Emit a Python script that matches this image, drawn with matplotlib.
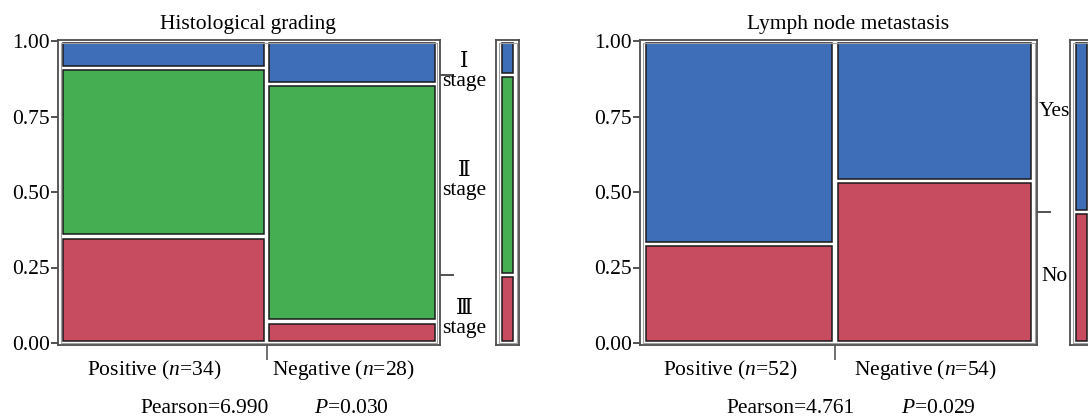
import numpy as np
import matplotlib
matplotlib.use('Agg')
import matplotlib.pyplot as plt
from matplotlib.patches import Rectangle

plt.rcParams['font.family'] = ['Liberation Serif', 'DejaVu Serif', 'Noto Sans CJK SC']
plt.rcParams['mathtext.fontset'] = 'custom'
plt.rcParams['mathtext.rm'] = 'Liberation Serif'
plt.rcParams['mathtext.it'] = 'Liberation Serif:italic'

# Data (counts)
groups = ['Positive', 'Negative']
grade_n = [34, 28]
grade_stage_III = [12, 2]
grade_stage_II = [19, 22]
grade_stage_I = [3, 4]
grade_labels = ['Ⅲ\nstage', 'Ⅱ\nstage', 'Ⅰ\nstage']

lymph_n = [52, 54]
lymph_no = [17, 29]
lymph_yes = [35, 25]
lymph_labels = ['No', 'Yes']

grade_stats = ['Pearson=6.990', '$P$=0.030']
lymph_stats = ['Pearson=4.761', '$P$=0.029']

colors_grade = ['#c84c5f', '#46ae52', '#3d6eb7']
colors_lymph = ['#c84c5f', '#3d6eb7']

W, H = 1088, 417
fig = plt.figure(figsize=(W / 100, H / 100), dpi=100)
FS = 15.5

PAD = 0.014
GAP = 0.014
G = 0.014


def px_axes(x0, x1, ytop, ybot):
    return fig.add_axes([x0 / W, 1 - ybot / H, (x1 - x0) / W, (ybot - ytop) / H])


def ftext(x, y, s, **kw):
    fig.text(x / W, 1 - y / H, s, fontsize=FS, **kw)


def frame(ax, wpx, hpx):
    for sp in ax.spines.values():
        sp.set_color('#4d4d4d')
        sp.set_linewidth(1.3)
    dx, dy = 2.5 / wpx, 2.5 / hpx
    ax.add_patch(Rectangle((dx, dy), 1 - 2 * dx, 1 - 2 * dy, transform=ax.transAxes,
                           fill=False, ec='#a0a0a0', lw=0.8))


def mosaic(ax, n, parts, colors):
    total = sum(n)
    avail = 1 - 2 * PAD - GAP * (len(n) - 1)
    x = PAD
    centers, dividers = [], []
    for j in range(len(n)):
        w = avail * n[j] / total
        lo = 0.0
        for k, part in enumerate(parts):
            hi = lo + part[j] / n[j]
            ax.add_patch(Rectangle((x, lo + G / 2), w, hi - lo - G, fc=colors[k],
                                   ec='#1a1a1a', lw=1.1))
            lo = hi
        centers.append(x + w / 2)
        x += w + GAP
        dividers.append(x - GAP / 2)
    # marginal boundaries
    tot = [sum(p) for p in parts]
    bounds = np.cumsum(tot)[:-1] / sum(tot)
    return centers, dividers[:-1], tot, bounds


def marginal(ax, tot, colors):
    lo = 0.0
    for k, t in enumerate(tot):
        hi = lo + t / sum(tot)
        ax.add_patch(Rectangle((0.26, lo + G / 2), 0.5, hi - lo - G, fc=colors[k],
                               ec='#1a1a1a', lw=1.1))
        lo = hi


def setup(ax, wpx, centers, dividers, bounds, x0px):
    ax.set_xlim(0, 1)
    ax.set_ylim(-2 / 302, 1 + 1 / 302)
    ax.set_yticks([0, 0.25, 0.5, 0.75, 1.0])
    ax.set_yticklabels(['0.00', '0.25', '0.50', '0.75', '1.00'])
    ax.tick_params(axis='y', length=5, width=1.2, color='#333333', labelsize=FS, pad=1)
    ax.set_xticks(dividers)
    ax.set_xticklabels([])
    ax.tick_params(axis='x', length=11, width=1.2, color='#555555')
    sec = ax.secondary_yaxis('right')
    sec.set_yticks(bounds)
    sec.tick_params(length=10, width=1.2, color='#333333', labelright=False)
    sec.spines['right'].set_visible(False)
    frame(ax, wpx, 305)


# Left panel: histological grading
ax1 = px_axes(58, 440, 40, 345)
c1, d1, t1, b1 = mosaic(ax1, grade_n, [grade_stage_III, grade_stage_II, grade_stage_I], colors_grade)
setup(ax1, 382, c1, d1, b1, 58)
for y, lab in zip([0.079, 0.536, 0.897], grade_labels):
    ax1.text(1.063, y, lab, transform=ax1.get_yaxis_transform(), ha='center', va='center',
             fontsize=FS, linespacing=1.0, multialignment='center')
m1 = px_axes(496, 519, 40, 345)
m1.set_xlim(0, 1)
m1.set_ylim(-2 / 302, 1 + 1 / 302)
m1.set_xticks([])
m1.set_yticks([])
marginal(m1, t1, colors_grade)
frame(m1, 23, 305)

# Right panel: lymph node metastasis
ax2 = px_axes(640, 1037, 40, 345)
c2, d2, t2, b2 = mosaic(ax2, lymph_n, [lymph_no, lymph_yes], colors_lymph)
setup(ax2, 397, c2, d2, b2, 640)
ax2.text(1.004, 0.765, lymph_labels[1], transform=ax2.get_yaxis_transform(), ha='left',
         va='center', fontsize=FS)
ax2.text(1.01, 0.219, lymph_labels[0], transform=ax2.get_yaxis_transform(), ha='left',
         va='center', fontsize=FS)
m2 = px_axes(1070, 1093, 40, 345)
m2.set_xlim(0, 1)
m2.set_ylim(-2 / 302, 1 + 1 / 302)
m2.set_xticks([])
m2.set_yticks([])
marginal(m2, t2, colors_lymph)
frame(m2, 23, 305)

# Titles
ftext(248, 29, 'Histological grading', ha='center', va='baseline')
ftext(848, 29, 'Lymph node metastasis', ha='center', va='baseline')

# Group labels under the columns
for x0, wpx, centers, ns in [(58, 382, c1, grade_n), (640, 397, c2, lymph_n)]:
    for c, g, n in zip(centers, groups, ns):
        ftext(x0 + wpx * c - 9, 375, '%s ($n$=%d)' % (g, n), ha='center', va='baseline')

# Test statistics
ftext(140, 413, grade_stats[0], ha='left', va='baseline')
ftext(314, 413, grade_stats[1], ha='left', va='baseline')
ftext(726, 413, lymph_stats[0], ha='left', va='baseline')
ftext(901, 413, lymph_stats[1], ha='left', va='baseline')

fig.savefig('out.png', dpi=100)
